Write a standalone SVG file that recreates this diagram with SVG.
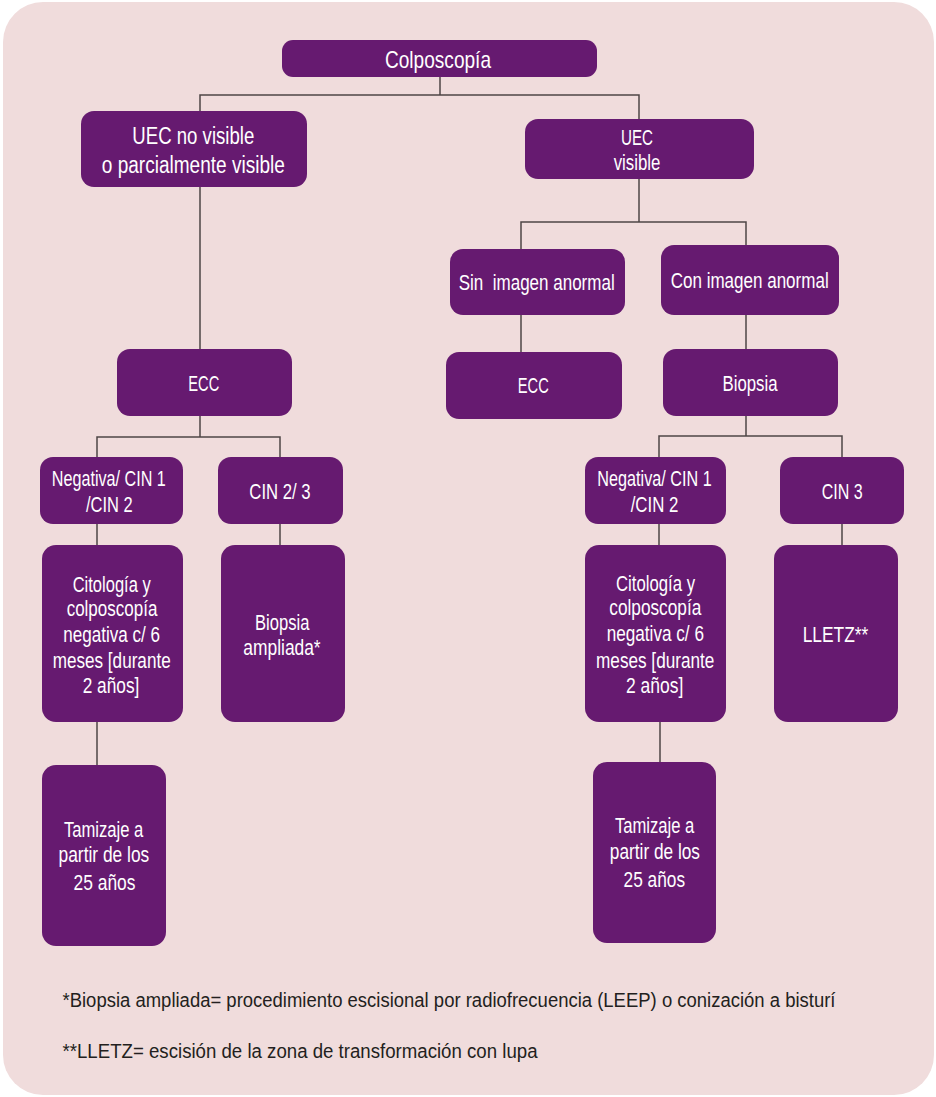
<svg xmlns="http://www.w3.org/2000/svg" width="936" height="1097" viewBox="0 0 936 1097">
<style>
.bg{fill:#f0dcdc}
.n{fill:#661a70}
.t{fill:#ffffff;font-family:"Liberation Sans Narrow","Liberation Sans",Arial,sans-serif;font-size:21.5px;text-anchor:middle}
.tl{font-size:23px}
.tx{font-size:24px}
.f{fill:#231f20;font-family:"Liberation Sans Narrow","Liberation Sans",Arial,sans-serif;font-size:19.5px}
.c{fill:none;stroke:#4d4646;stroke-width:1.5}
</style>
<rect x="0" y="0" width="936" height="1097" fill="#ffffff"/>
<rect class="bg" x="3" y="2" width="931" height="1093" rx="40" ry="40"/>
<g id="connectors">
<path class="c" d="M440,77V95M200,111V95H639V119"/>
<path class="c" d="M200,187V349"/>
<path class="c" d="M639,179V222M521,249V222H746V245"/>
<path class="c" d="M521,315V352M746,315V349"/>
<path class="c" d="M200,416V437M97,457V437H280V457"/>
<path class="c" d="M97,524V545M280,524V545M97,722V765"/>
<path class="c" d="M746,416V436M659,457V436H842V457"/>
<path class="c" d="M659,524V545M842,524V545M660,722V762"/>
</g>
<g id="colposcopia">
<rect class="n" x="282" y="40" width="315" height="37" rx="11"/>
<text class="t tx" x="438" y="68.3" textLength="106" lengthAdjust="spacingAndGlyphs">Colposcopía</text>
</g>
<g id="uec-no-visible">
<rect class="n" x="81" y="111" width="226" height="76" rx="13"/>
<text class="t tl" x="193.3" y="144" textLength="122" lengthAdjust="spacingAndGlyphs">UEC no visible</text>
<text class="t tl" x="193.3" y="173" textLength="183" lengthAdjust="spacingAndGlyphs">o parcialmente visible</text>
</g>
<g id="uec-visible">
<rect class="n" x="525" y="119" width="229" height="60" rx="13"/>
<text class="t" x="637" y="145" textLength="32" lengthAdjust="spacingAndGlyphs">UEC</text>
<text class="t" x="637" y="170" textLength="46.7" lengthAdjust="spacingAndGlyphs">visible</text>
</g>
<g id="sin-imagen">
<rect class="n" x="450" y="249" width="175" height="66" rx="13"/>
<text class="t" x="536.7" y="290" textLength="156" lengthAdjust="spacingAndGlyphs" xml:space="preserve" style="white-space:pre">Sin  imagen anormal</text>
</g>
<g id="con-imagen">
<rect class="n" x="661" y="245" width="178" height="70" rx="13"/>
<text class="t" x="749.7" y="288" textLength="158" lengthAdjust="spacingAndGlyphs">Con imagen anormal</text>
</g>
<g id="ecc-right">
<rect class="n" x="446" y="352" width="176" height="67" rx="13"/>
<text class="t" x="533.3" y="393" textLength="31" lengthAdjust="spacingAndGlyphs">ECC</text>
</g>
<g id="biopsia">
<rect class="n" x="663" y="349" width="175" height="67" rx="13"/>
<text class="t" x="750" y="391" textLength="55" lengthAdjust="spacingAndGlyphs">Biopsia</text>
</g>
<g id="ecc-left">
<rect class="n" x="117" y="349" width="175" height="67" rx="13"/>
<text class="t" x="203.8" y="390.7" textLength="31" lengthAdjust="spacingAndGlyphs">ECC</text>
</g>
<g id="negativa-left">
<rect class="n" x="40" y="457" width="143" height="67" rx="13"/>
<text class="t" x="108.8" y="486" textLength="114" lengthAdjust="spacingAndGlyphs">Negativa/ CIN 1</text>
<text class="t" x="109.3" y="511.7" textLength="46.7" lengthAdjust="spacingAndGlyphs">/CIN 2</text>
</g>
<g id="cin23">
<rect class="n" x="218" y="457" width="125" height="67" rx="13"/>
<text class="t" x="280" y="499" textLength="61.3" lengthAdjust="spacingAndGlyphs">CIN 2/ 3</text>
</g>
<g id="citologia-left">
<rect class="n" x="42" y="545" width="141" height="177" rx="14"/>
<text class="t" x="111.7" y="591.7" textLength="78" lengthAdjust="spacingAndGlyphs">Citología y</text>
<text class="t" x="112" y="616" textLength="90.7" lengthAdjust="spacingAndGlyphs">colposcopía</text>
<text class="t" x="111.7" y="641.7" textLength="96.7" lengthAdjust="spacingAndGlyphs">negativa c/ 6</text>
<text class="t" x="111.7" y="668.3" textLength="118" lengthAdjust="spacingAndGlyphs">meses [durante</text>
<text class="t" x="111" y="693.3" textLength="56.7" lengthAdjust="spacingAndGlyphs">2 años]</text>
</g>
<g id="biopsia-ampliada">
<rect class="n" x="221" y="545" width="124" height="177" rx="14"/>
<text class="t" x="282.2" y="630" textLength="54.3" lengthAdjust="spacingAndGlyphs">Biopsia</text>
<text class="t" x="282" y="655" textLength="77.3" lengthAdjust="spacingAndGlyphs">ampliada*</text>
</g>
<g id="tamizaje-left">
<rect class="n" x="42" y="765" width="124" height="181" rx="14"/>
<text class="t" x="103.6" y="836.7" textLength="79.4" lengthAdjust="spacingAndGlyphs">Tamizaje a</text>
<text class="t" x="103.9" y="862.3" textLength="90.7" lengthAdjust="spacingAndGlyphs">partir de los</text>
<text class="t" x="104.5" y="890" textLength="62" lengthAdjust="spacingAndGlyphs">25 años</text>
</g>
<g id="negativa-right">
<rect class="n" x="585" y="457" width="141" height="67" rx="13"/>
<text class="t" x="654.5" y="486" textLength="114.3" lengthAdjust="spacingAndGlyphs">Negativa/ CIN 1</text>
<text class="t" x="654.5" y="511.7" textLength="47.7" lengthAdjust="spacingAndGlyphs">/CIN 2</text>
</g>
<g id="cin3">
<rect class="n" x="780" y="457" width="124" height="67" rx="13"/>
<text class="t" x="842.2" y="499" textLength="41" lengthAdjust="spacingAndGlyphs">CIN 3</text>
</g>
<g id="citologia-right">
<rect class="n" x="585" y="545" width="141" height="177" rx="14"/>
<text class="t" x="655.5" y="591" textLength="79" lengthAdjust="spacingAndGlyphs">Citología y</text>
<text class="t" x="655.3" y="615.3" textLength="92" lengthAdjust="spacingAndGlyphs">colposcopía</text>
<text class="t" x="655.3" y="641" textLength="97.3" lengthAdjust="spacingAndGlyphs">negativa c/ 6</text>
<text class="t" x="655.2" y="667.7" textLength="118.3" lengthAdjust="spacingAndGlyphs">meses [durante</text>
<text class="t" x="654.7" y="693.3" textLength="57.3" lengthAdjust="spacingAndGlyphs">2 años]</text>
</g>
<g id="lletz">
<rect class="n" x="774" y="545" width="124" height="177" rx="14"/>
<text class="t" x="835.5" y="641.7" textLength="65.7" lengthAdjust="spacingAndGlyphs">LLETZ**</text>
</g>
<g id="tamizaje-right">
<rect class="n" x="593" y="762" width="123" height="181" rx="14"/>
<text class="t" x="654.6" y="833.3" textLength="79.4" lengthAdjust="spacingAndGlyphs">Tamizaje a</text>
<text class="t" x="654.9" y="859.3" textLength="90.1" lengthAdjust="spacingAndGlyphs">partir de los</text>
<text class="t" x="654.3" y="887.3" textLength="61.5" lengthAdjust="spacingAndGlyphs">25 años</text>
</g>
<g id="footnotes">
<text class="f" x="62.5" y="1007.3" textLength="773" lengthAdjust="spacingAndGlyphs">*Biopsia ampliada= procedimiento escisional por radiofrecuencia (LEEP) o conización a bisturí</text>
<text class="f" x="62.5" y="1058.3" textLength="475" lengthAdjust="spacingAndGlyphs">**LLETZ= escisión de la zona de transformación con lupa</text>
</g>
</svg>
